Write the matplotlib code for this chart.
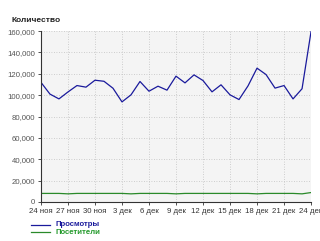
import numpy as np
import matplotlib
matplotlib.use('Agg')
import matplotlib.pyplot as plt

plt.rcParams['font.family'] = ['Liberation Sans', 'DejaVu Sans']

# days 24 ноя .. 24 дек
days = np.arange(31)
tick_pos = [0, 3, 6, 9, 12, 15, 18, 21, 24, 27, 30]
tick_labels = ['24 ноя', '27 ноя', '30 ноя', '3 дек', '6 дек', '9 дек',
               '12 дек', '15 дек', '18 дек', '21 дек', '24 дек']

views = [112000, 101000, 96500, 103000, 109000, 107500, 114000, 113000,
         106500, 93700, 100300, 112800, 103700, 108400, 104700, 117800,
         111500, 119000, 113700, 103100, 109700, 100300, 95900, 108700,
         125300, 119300, 106600, 109000, 96500, 106000, 159500]
visitors = [8000, 8000, 8000, 7600, 8000, 8000, 8000, 8000, 8000, 8000,
            7600, 8000, 8000, 8000, 8000, 7600, 8000, 8000, 8000, 8000,
            8000, 8000, 8000, 8000, 7600, 8000, 8000, 8000, 8000, 7600, 8800]

blue = '#1a1a9c'
green = '#2a8a2a'

fig = plt.figure(figsize=(3.2, 2.41), dpi=100)
ax = fig.add_axes([0.128, 0.162, 0.844, 0.709])
ax.set_facecolor('#f4f4f4')

ax.plot(days, views, color=blue, lw=0.9)
ax.plot(days, visitors, color=green, lw=0.9)

ax.set_xlim(0, 30)
ax.set_ylim(0, 160000)
ax.set_yticks(np.arange(0, 160001, 20000))
ax.set_yticklabels(['0' if v == 0 else '{:,}'.format(v) for v in range(0, 160001, 20000)])
ax.set_xticks(tick_pos)
ax.set_xticklabels(tick_labels)
ax.tick_params(labelsize=5.6, colors='#333333', length=2, width=0.6, pad=2)
ax.tick_params(axis='y', labelcolor='#555555')

ax.grid(True, color='#c0c0c0', linestyle=(0, (1, 2)), lw=0.6)
for s in ['top', 'right']:
    ax.spines[s].set_visible(False)
ax.spines['left'].set_color('#333333')
ax.spines['bottom'].set_color('#333333')
ax.spines['left'].set_linewidth(0.8)
ax.spines['bottom'].set_linewidth(0.8)

fig.text(11 / 320, 1 - 20 / 241, 'Количество', fontsize=6, fontweight='bold',
         color='#222222', va='center', ha='left')

# legend
for yy, col, lab in [(225, blue, 'Просмотры'), (232, '#22992a', 'Посетители')]:
    fig.add_artist(plt.Line2D([31 / 320, 50 / 320], [1 - yy / 241, 1 - yy / 241],
                              color=green if lab == 'Посетители' else blue, lw=0.9))
    fig.text(55 / 320, 1 - yy / 241, lab, fontsize=5.6, fontweight='bold',
             color=col, va='center', ha='left')

fig.savefig('out.png', dpi=100)
